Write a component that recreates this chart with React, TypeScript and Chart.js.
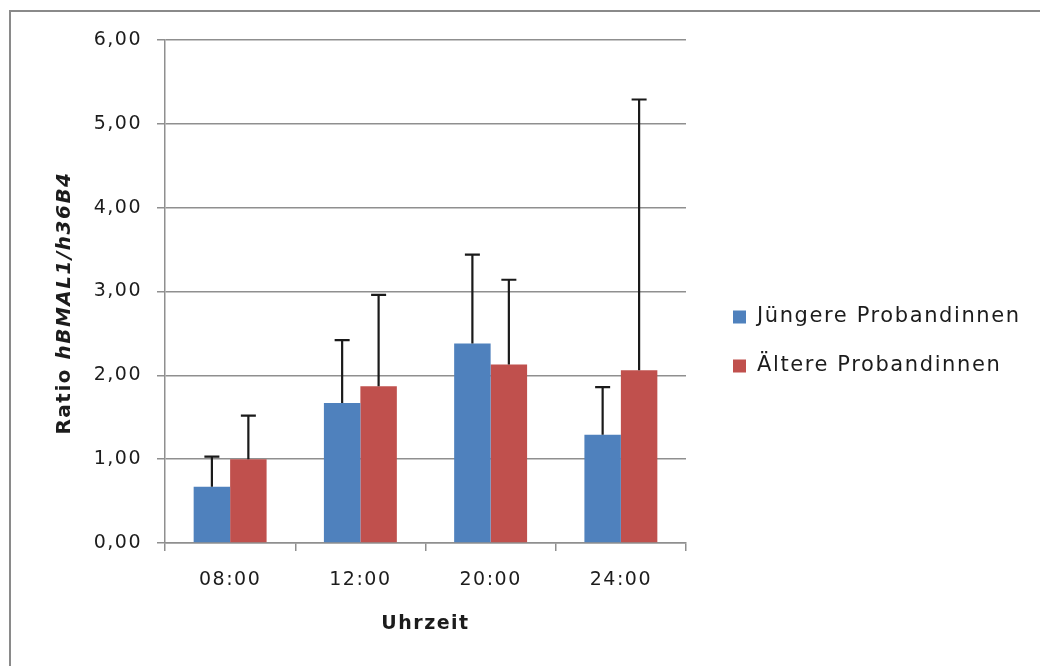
import React, { useEffect, useRef } from 'react';
import { Chart, registerables } from 'chart.js';

Chart.register(...registerables);

const categories = ['08:00', '12:00', '20:00', '24:00'];
const seriesNames = ['Jüngere Probandinnen', 'Ältere Probandinnen'];
const youngValues = [0.67, 1.67, 2.38, 1.29];
const youngErrors = [0.36, 0.75, 1.06, 0.57];
const olderValues = [1.0, 1.87, 2.13, 2.06];
const olderErrors = [0.52, 1.09, 1.01, 3.23];
const yTickValues = [0, 1, 2, 3, 4, 5, 6];
const yTitleParts = ['Ratio ', 'hBMAL1/h36B4'];
const xTitle = 'Uhrzeit';

const FONT = '"DejaVu Sans", "Open Sans", sans-serif';
const TEXT = '#1c1c1c';
const GRID = '#8f8f8f';
const SPACING = '1.5px';

const spacingPlugin = {
  id: 'spacing',
  beforeUpdate(chart: any) { chart.ctx.letterSpacing = SPACING; },
  beforeLayout(chart: any) { chart.ctx.letterSpacing = SPACING; },
  beforeDraw(chart: any) { chart.ctx.letterSpacing = SPACING; },
};

const framePlugin = {
  id: 'frame',
  beforeDraw(chart: any) {
    const ctx = chart.ctx;
    ctx.save();
    ctx.fillStyle = '#ffffff';
    ctx.fillRect(0, 0, chart.width, chart.height);
    ctx.strokeStyle = '#8a8a8a';
    ctx.lineWidth = 2;
    ctx.strokeRect(10, 11, chart.width + 20, chart.height + 20);
    ctx.restore();
  },
};

const errorBarPlugin = {
  id: 'errorBars',
  afterDatasetsDraw(chart: any) {
    const ctx = chart.ctx;
    const yScale = chart.scales.y;
    ctx.save();
    ctx.strokeStyle = '#1a1a1a';
    ctx.lineWidth = 2.2;
    chart.data.datasets.forEach((ds: any, i: number) => {
      const meta = chart.getDatasetMeta(i);
      meta.data.forEach((el: any, j: number) => {
        const top = yScale.getPixelForValue(ds.data[j] + ds.errorPlus[j]);
        ctx.beginPath();
        ctx.moveTo(el.x, el.y);
        ctx.lineTo(el.x, top);
        ctx.moveTo(el.x - 7.5, top);
        ctx.lineTo(el.x + 7.5, top);
        ctx.stroke();
      });
    });
    ctx.restore();
  },
};

const yTitlePlugin = {
  id: 'yTitle',
  afterDraw(chart: any) {
    const ctx = chart.ctx;
    ctx.save();
    ctx.letterSpacing = '1.5px';
    const f1 = `bold 20px ${FONT}`;
    const f2 = `italic bold 20px ${FONT}`;
    ctx.font = f1;
    const w1 = ctx.measureText(yTitleParts[0]).width;
    ctx.font = f2;
    const w2 = ctx.measureText(yTitleParts[1]).width;
    const total = w1 + w2;
    ctx.translate(65, 303);
    ctx.rotate(-Math.PI / 2);
    ctx.fillStyle = TEXT;
    ctx.textBaseline = 'middle';
    ctx.textAlign = 'left';
    ctx.font = f1;
    ctx.fillText(yTitleParts[0], -total / 2, 0);
    ctx.font = f2;
    ctx.fillText(yTitleParts[1], -total / 2 + w1, 0);
    ctx.restore();
  },
};

const legendPlugin = {
  id: 'customLegend',
  afterDraw(chart: any) {
    const ctx = chart.ctx;
    ctx.save();
    ctx.letterSpacing = '1.6px';
    ctx.font = `21px ${FONT}`;
    ctx.textBaseline = 'middle';
    ctx.textAlign = 'left';
    chart.data.datasets.forEach((ds: any, i: number) => {
      const cy = 317 + i * 49;
      ctx.fillStyle = ds.backgroundColor;
      ctx.fillRect(733, cy - 6.5, 13, 13);
      ctx.fillStyle = TEXT;
      ctx.fillText(ds.label, 757, cy);
    });
    ctx.restore();
  },
};

export default function App() {
  const ref = useRef<HTMLCanvasElement>(null);
  useEffect(() => {
    if (!ref.current) return;
    const chart = new Chart(ref.current, {
      type: 'bar',
      data: {
        labels: categories,
        datasets: [
          {
            label: seriesNames[0],
            data: youngValues,
            errorPlus: youngErrors,
            backgroundColor: '#4F81BD',
            borderWidth: 0,
            categoryPercentage: 0.56,
            barPercentage: 1,
          } as any,
          {
            label: seriesNames[1],
            data: olderValues,
            errorPlus: olderErrors,
            backgroundColor: '#C0504D',
            borderWidth: 0,
            categoryPercentage: 0.56,
            barPercentage: 1,
          } as any,
        ],
      },
      options: {
        responsive: false,
        animation: false,
        devicePixelRatio: 1,
        layout: { padding: { top: 40, right: 354, bottom: 0, left: 0 } },
        plugins: {
          legend: { display: false },
          tooltip: { enabled: false },
        },
        scales: {
          x: {
            grid: {
              offset: true,
              drawOnChartArea: false,
              drawTicks: true,
              tickLength: 8,
              color: GRID,
              lineWidth: 1.5,
            },
            border: { color: GRID, width: 1.5 },
            ticks: {
              color: TEXT,
              font: { family: FONT, size: 19 },
              padding: 18,
              maxRotation: 0,
            },
            title: {
              display: true,
              text: xTitle,
              color: TEXT,
              font: { family: FONT, size: 19, weight: 'bold' },
              padding: { top: 0, bottom: 31 },
            },
            afterFit(scale: any) { scale.height = 123; },
          },
          y: {
            min: 0,
            max: 6,
            afterBuildTicks(scale: any) {
              scale.ticks = yTickValues.map((v) => ({ value: v }));
            },
            grid: {
              color: GRID,
              lineWidth: 1.5,
              tickLength: 8,
              drawTicks: true,
            },
            border: { color: GRID, width: 1.5 },
            ticks: {
              color: TEXT,
              font: { family: FONT, size: 19 },
              padding: 15,
              callback: (v: any) => Number(v).toFixed(2).replace('.', ','),
            },
            afterFit(scale: any) { scale.width = 165; },
          },
        },
      },
      plugins: [spacingPlugin, framePlugin, errorBarPlugin, yTitlePlugin, legendPlugin],
    });
    return () => chart.destroy();
  }, []);
  return (
    <div style={{ position: 'fixed', left: 0, top: 0, width: 1040, height: 666, overflow: 'hidden', background: '#fff' }}>
      <canvas ref={ref} width={1040} height={666} style={{ display: 'block', width: 1040, height: 666 }} />
    </div>
  );
}
